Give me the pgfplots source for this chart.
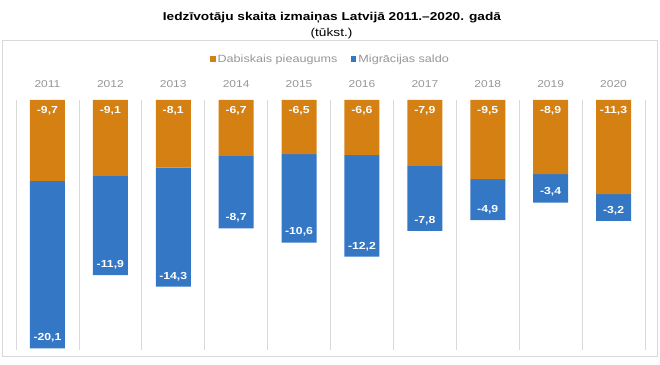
\documentclass[border=0pt]{standalone}
\usepackage{fontspec}
\setmainfont{Liberation Sans}[FakeStretch=1.2]
\usepackage{pgfplots}
\usepackage{pgfplotstable}
\pgfplotsset{compat=1.18}
\definecolor{orC}{RGB}{213,128,18}
\definecolor{blC}{RGB}{52,119,196}
\definecolor{grT}{RGB}{150,150,150}
\definecolor{grL}{RGB}{217,217,217}
\pgfplotstableread{
x nat mig
0 -9.7 -20.1
1 -9.1 -11.9
2 -8.1 -14.3
3 -6.7 -8.7
4 -6.5 -10.6
5 -6.6 -12.2
6 -7.9 -7.8
7 -9.5 -4.9
8 -8.9 -3.4
9 -11.3 -3.2
}\datatab
\pgfplotstableread{
x y lab
0 0 -9,7
1 0 -9,1
2 0 -8,1
3 0 -6,7
4 0 -6,5
5 0 -6,6
6 0 -7,9
7 0 -9,5
8 0 -8,9
9 0 -11,3
}\natlab
\pgfplotstableread{
x y lab
0 -29.8 -20,1
1 -21.0 -11,9
2 -22.4 -14,3
3 -15.4 -8,7
4 -17.1 -10,6
5 -18.8 -12,2
6 -15.7 -7,8
7 -14.4 -4,9
8 -12.3 -3,4
9 -14.5 -3,2
}\miglab
\pgfplotsset{base/.style={at={(16pt,14pt)}, anchor=south west, scale only axis,
  width=629pt, height=250pt, xmin=-0.5, xmax=9.5, ymin=-30, ymax=0}}
\begin{document}
\begin{tikzpicture}[x=1pt,y=1pt]
\useasboundingbox (0,0) rectangle (660,364);
\draw[grL, line width=0.8pt] (2.7,8) rectangle (657.5,324);
\node[anchor=base, font=\fontsize{11.4}{13}\selectfont\bfseries] at (332,343.3) {Iedzīvotāju skaita izmaiņas Latvijā 2011.–2020. gadā};
\node[anchor=base, font=\fontsize{11.4}{13}\selectfont] at (331.5,327.5) {(tūkst.)};
\begin{axis}[base,
  ybar stacked, bar width=35pt,
  xtick={0,...,9}, xticklabels={2011,2012,2013,2014,2015,2016,2017,2018,2019,2020},
  xticklabel pos=upper,
  xticklabel style={anchor=base, yshift=12.7pt, font=\fontsize{10}{12}\selectfont, text=grT},
  ytick=\empty,
  minor xtick={-0.5,0.5,...,9.5}, xminorgrids, minor grid style={grL, line width=0.8pt},
  axis line style={draw=none}, major tick length=0pt, minor tick length=0pt,
  legend style={at={(0.5,1.164)}, anchor=center, draw=none, fill=none, legend columns=2,
    font=\fontsize{10.5}{12}\selectfont, text=grT,
    /tikz/every even column/.append style={column sep=11.7pt}},
  legend image code/.code={\fill[#1] (0pt,-2.7pt) rectangle (5.4pt,2.7pt);},
  ]
\addplot[fill=orC, draw=none] table[x=x, y=nat] {\datatab};
\addplot[fill=blC, draw=none] table[x=x, y=mig] {\datatab};
\legend{Dabiskais pieaugums, Migrācijas saldo}
\end{axis}
\begin{axis}[base, hide axis, clip=false]
\addplot[only marks, mark=none, nodes near coords, point meta=explicit symbolic,
  every node near coord/.append style={anchor=center, yshift=-10.8pt,
    font=\fontsize{10.2}{12}\selectfont\bfseries, text=white}]
  table[x=x, y=y, meta=lab] {\natlab};
\addplot[only marks, mark=none, nodes near coords, point meta=explicit symbolic,
  every node near coord/.append style={anchor=center, yshift=10.4pt,
    font=\fontsize{10.2}{12}\selectfont\bfseries, text=white}]
  table[x=x, y=y, meta=lab] {\miglab};
\end{axis}
\end{tikzpicture}
\end{document}
